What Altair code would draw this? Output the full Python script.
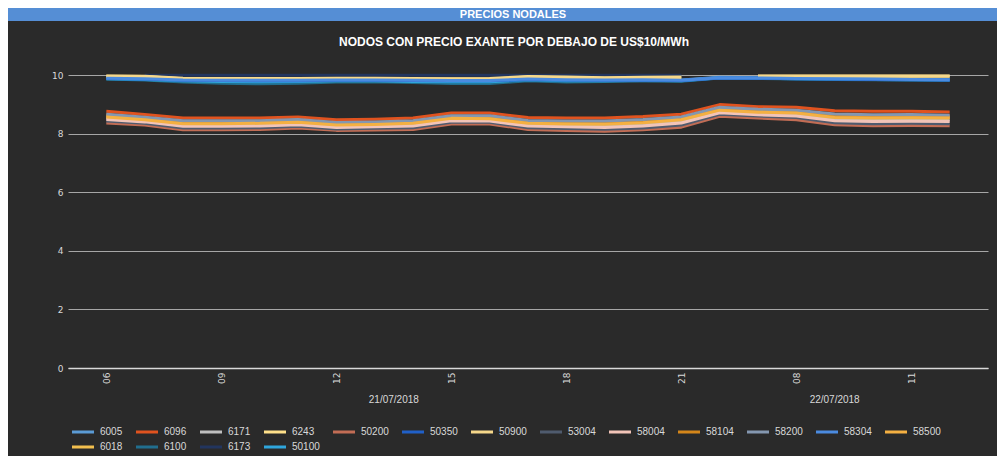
import altair as alt
import pandas as pd

# ---- categories ----
hours = ["06", "07", "08", "09", "10", "11", "12", "13", "14", "15", "16", "17", "18", "19", "20", "21",
         "06", "07", "08", "09", "10", "11", "12"]
days = ["21/07/2018"] * 16 + ["22/07/2018"] * 7

# ---- series (draw order) ----
series_order = ["6005", "6018", "6096", "6100", "6171", "6173", "6243", "50100", "50200",
                "50350", "50900", "53004", "58004", "58104", "58200", "58304", "58500"]

# legend order as shown (row by row)
legend_order = ["6005", "6096", "6171", "6243", "50200", "50350", "50900", "53004", "58004",
                "58104", "58200", "58304", "58500", "6018", "6100", "6173", "50100"]
legend_colors = ["#5B9BD5", "#E0531F", "#BFBFBF", "#FFE08A", "#C26D55", "#2060C8", "#F5D78A",
                 "#4F5B6E", "#F2C4B8", "#D4861A", "#8497B0", "#4B8BE0", "#F4B042",
                 "#F2BF4E", "#216E8E", "#22355E", "#2FA6DC"]

N = None
s6005 = [9.90, 9.88, 9.84, 9.83, 9.83, 9.83, 9.84, 9.84, 9.83, 9.82, 9.82, 9.87, 9.85, 9.84, 9.85, 9.83, 9.92, 9.91, 9.89, 9.88, 9.87, 9.86, 9.85]
s6018 = [8.60, 8.50, 8.37, 8.37, 8.38, 8.42, 8.32, 8.34, 8.38, 8.55, 8.54, 8.38, 8.36, 8.35, 8.41, 8.50, 8.83, 8.76, 8.73, 8.59, 8.56, 8.57, 8.56]
s6096 = [8.76, 8.65, 8.53, 8.53, 8.53, 8.57, 8.47, 8.49, 8.53, 8.70, 8.70, 8.55, 8.53, 8.53, 8.58, 8.66, 8.99, 8.92, 8.90, 8.78, 8.76, 8.76, 8.74]
s6100 = [9.86, 9.83, 9.76, 9.72, 9.70, 9.72, 9.76, 9.77, 9.74, 9.71, 9.71, 9.80, 9.76, 9.78, 9.80, 9.79, 9.90, 9.88, 9.86, 9.85, 9.84, 9.83, 9.82]
s6171 = [8.52, 8.43, 8.29, 8.29, 8.30, 8.34, 8.25, 8.27, 8.30, 8.48, 8.47, 8.30, 8.28, 8.26, 8.31, 8.41, 8.75, 8.68, 8.64, 8.49, 8.46, 8.47, 8.46]
s6173 = [N, 9.99, 9.99, 9.99, 9.99, 9.99, 9.99, 9.99, 9.99, 9.99, 9.99, 9.99, 9.99, 9.99, 9.99, 9.99, N, N, N, N, N, N, N]
s6243 = [9.97, 9.96, 9.89, 9.88, 9.88, 9.88, 9.89, 9.89, 9.88, 9.87, 9.88, 9.95, 9.93, 9.91, 9.92, 9.93, N, 9.97, 9.97, 9.97, 9.97, 9.97, 9.97]
s50100 = [9.87, 9.85, 9.80, 9.78, 9.77, 9.78, 9.80, 9.80, 9.78, 9.77, 9.77, 9.84, 9.80, 9.80, 9.81, 9.80, 9.91, 9.89, 9.87, 9.86, 9.85, 9.84, 9.83]
s50200 = [8.36, 8.29, 8.13, 8.13, 8.14, 8.19, 8.11, 8.12, 8.14, 8.33, 8.33, 8.14, 8.11, 8.08, 8.13, 8.22, 8.59, 8.53, 8.47, 8.30, 8.27, 8.28, 8.27]
s50350 = [9.88, 9.86, 9.82, 9.81, 9.80, 9.80, 9.82, 9.82, 9.81, 9.80, 9.80, 9.85, 9.83, 9.82, 9.83, 9.81, 9.90, 9.89, 9.87, 9.86, 9.85, 9.84, 9.83]
s50900 = [9.96, 9.95, 9.87, 9.87, 9.86, 9.86, 9.87, 9.87, 9.86, 9.86, 9.86, 9.93, 9.91, 9.89, 9.90, 9.91, N, 9.96, 9.96, 9.96, 9.96, 9.96, 9.96]
s53004 = [8.43, 8.35, 8.19, 8.19, 8.20, 8.25, 8.16, 8.18, 8.20, 8.39, 8.39, 8.20, 8.17, 8.15, 8.19, 8.29, 8.66, 8.60, 8.55, 8.37, 8.34, 8.35, 8.34]
s58004 = [8.48, 8.40, 8.25, 8.25, 8.26, 8.30, 8.21, 8.23, 8.26, 8.44, 8.43, 8.26, 8.23, 8.21, 8.26, 8.36, 8.71, 8.64, 8.60, 8.44, 8.41, 8.42, 8.41]
s58104 = [8.64, 8.54, 8.41, 8.41, 8.42, 8.46, 8.36, 8.38, 8.42, 8.59, 8.58, 8.42, 8.40, 8.40, 8.45, 8.54, 8.87, 8.80, 8.77, 8.63, 8.61, 8.61, 8.60]
s58200 = [8.66, 8.56, 8.44, 8.44, 8.44, 8.48, 8.38, 8.40, 8.44, 8.61, 8.61, 8.45, 8.43, 8.43, 8.48, 8.57, 8.90, 8.83, 8.80, 8.67, 8.64, 8.65, 8.63]
s58304 = [9.89, 9.87, 9.83, 9.82, 9.82, 9.82, 9.83, 9.83, 9.82, 9.81, 9.81, 9.86, 9.84, 9.83, 9.84, 9.82, 9.91, 9.90, 9.88, 9.87, 9.86, 9.85, 9.84]
s58500 = [8.57, 8.47, 8.34, 8.34, 8.35, 8.39, 8.29, 8.31, 8.35, 8.52, 8.51, 8.35, 8.33, 8.32, 8.37, 8.47, 8.80, 8.73, 8.70, 8.55, 8.53, 8.54, 8.53]

values = {
    "6005": s6005, "6018": s6018, "6096": s6096, "6100": s6100, "6171": s6171, "6173": s6173,
    "6243": s6243, "50100": s50100, "50200": s50200, "50350": s50350, "50900": s50900,
    "53004": s53004, "58004": s58004, "58104": s58104, "58200": s58200, "58304": s58304,
    "58500": s58500,
}

rows = []
for name in series_order:
    for i, v in enumerate(values[name]):
        rows.append({"serie": name, "idx": i, "precio": v})
df = pd.DataFrame(rows)

day_names = ["21/07/2018", "22/07/2018"]
day_centers = [sum(i for i, d in enumerate(days) if d == dn) / days.count(dn) for dn in day_names]
df_days = pd.DataFrame({"dia": day_names, "centro": day_centers})

TXT = "#D9D9D9"
FONT = "Liberation Sans"

label_expr = "[" + ",".join("'%s'" % h for h in hours) + "][datum.value]"

xscale = alt.Scale(domain=[-1, len(hours)], nice=False, zero=False)

lines = alt.Chart(df).mark_line(strokeWidth=3, strokeJoin="round", strokeCap="butt",
                                invalid="break-paths-show-domains").encode(
    x=alt.X("idx:Q", scale=xscale,
            axis=alt.Axis(values=list(range(0, len(hours), 3)), labelExpr=label_expr,
                          labelAngle=-90, labelAlign="right", labelBaseline="middle",
                          title=None, grid=False, ticks=False, domain=True,
                          domainColor="#D9D9D9", domainWidth=1.5,
                          labelColor=TXT, labelFont="DejaVu Sans", labelFontSize=9,
                          labelPadding=4)),
    y=alt.Y("precio:Q", scale=alt.Scale(domain=[0, 10], nice=False),
            axis=alt.Axis(values=[0, 2, 4, 6, 8, 10], title=None, ticks=False, domain=False,
                          grid=True, gridColor="#A6A6A6", gridWidth=1,
                          labelColor=TXT, labelFont="DejaVu Sans", labelFontSize=9,
                          labelPadding=5)),
    color=alt.Color("serie:N", scale=alt.Scale(domain=legend_order, range=legend_colors),
                    sort=legend_order,
                    legend=alt.Legend(title=None, orient="none", legendX=8, legendY=350,
                                      direction="horizontal", columns=13,
                                      symbolType="M-2,0H2", symbolStrokeWidth=3, symbolSize=121,
                                      labelColor=TXT, labelFont=FONT, labelFontSize=10,
                                      labelOffset=10, columnPadding=7, rowPadding=2)),
    order=alt.Order("idx:Q"),
)

day_labels = alt.Chart(df_days).mark_text(color=TXT, font=FONT, fontSize=10, baseline="middle").encode(
    x=alt.X("centro:Q", scale=xscale),
    y=alt.value(325),
    text="dia:N",
)

header_df = pd.DataFrame({"t": ["PRECIOS NODALES"]})
header_bar = alt.Chart(header_df).mark_rect(color="#558ED5").encode(
    x=alt.value(-60), x2=alt.value(929), y=alt.value(-67), y2=alt.value(-54)
)
header_text = alt.Chart(header_df).mark_text(color="white", font=FONT, fontSize=11, fontWeight="bold",
                                             baseline="middle").encode(
    x=alt.value(445), y=alt.value(-60.5), text="t:N"
)
sub_df = pd.DataFrame({"t": ["NODOS CON PRECIO EXANTE POR DEBAJO DE US$10/MWh"]})
sub_text = alt.Chart(sub_df).mark_text(color="white", font=FONT, fontSize=12, fontWeight="bold",
                                       baseline="middle").encode(
    x=alt.value(446), y=alt.value(-33), text="t:N"
)

chart = alt.layer(header_bar, header_text, sub_text, lines, day_labels).properties(
    width=920, height=293,
    background="#2A2A2A",
    autosize=alt.AutoSizeParams(type="none"),
    padding={"left": 60, "top": 67, "right": 9, "bottom": 88},
).configure_view(stroke=None)

chart.save("out.html", embed_options={"renderer": "svg", "actions": False})
